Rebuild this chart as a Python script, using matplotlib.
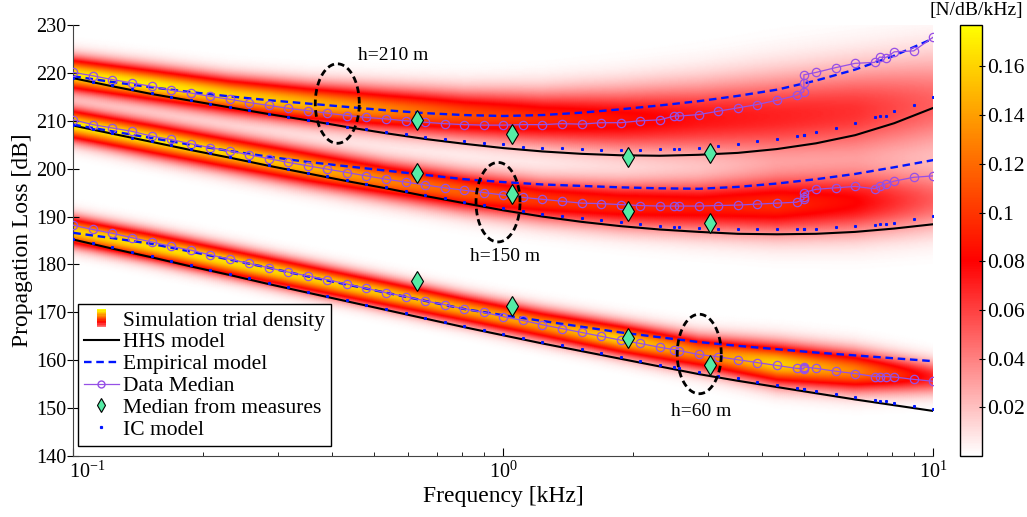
import numpy as np
import matplotlib
matplotlib.use('Agg')
from matplotlib import pyplot as plt
from matplotlib.colors import LinearSegmentedColormap
from matplotlib.legend_handler import HandlerBase
from matplotlib.patches import Rectangle
from matplotlib.lines import Line2D
from matplotlib.transforms import ScaledTranslation

plt.rcParams['font.family'] = ['Liberation Serif', 'DejaVu Serif']
plt.rcParams['mathtext.fontset'] = 'stix'

# frequencies of the data medians / IC model (kHz)
freq = [0.1, 0.111, 0.1233, 0.1369, 0.152, 0.1688, 0.1874, 0.2081, 0.231, 0.2565,
        0.2848, 0.3162, 0.3511, 0.3899, 0.4329, 0.4806, 0.5337, 0.5926, 0.6579, 0.7305,
        0.8111, 0.9006, 1.0, 1.1103, 1.2328, 1.3689, 1.5199, 1.6877, 1.8738, 2.0806,
        2.3101, 2.5, 2.565, 2.848, 3.1623, 3.5112, 3.8986, 4.3288, 4.8064, 5.0,
        5.0, 5.0, 5.3367, 5.9255, 6.5793, 7.3053, 7.5, 7.75, 8.1113, 9.0063, 10.0]

median_210 = [220.1, 219.4, 218.6, 217.9, 217.2, 216.4, 215.8, 215.1, 214.5, 213.8,
              213.2, 212.6, 212.1, 211.6, 211.1, 210.7, 210.4, 210.0, 209.7, 209.4,
              209.2, 209.1, 209.1, 209.2, 209.2, 209.4, 209.3, 209.6, 209.6, 210.0,
              210.2, 211.0, 211.0, 211.3, 212.0, 212.7, 213.4, 214.3, 215.3, 216.1,
              217.8, 219.6, 220.1, 221.1, 222.0, 222.2, 223.3, 223.2, 224.4, 224.6, 227.5]
median_150 = [210.2, 209.2, 208.5, 207.8, 206.8, 206.1, 205.2, 204.4, 203.7, 202.9,
              202.1, 201.3, 200.6, 199.9, 199.2, 198.5, 197.8, 197.2, 196.6, 196.0,
              195.5, 195.0, 194.5, 194.0, 193.6, 193.2, 192.8, 192.7, 192.5, 192.3,
              192.2, 192.2, 192.2, 192.2, 192.3, 192.4, 192.6, 192.8, 193.0, 193.6,
              194.1, 195.0, 195.7, 196.0, 196.3, 195.8, 196.3, 196.8, 197.4, 198.2, 198.5]
median_60 = [188.2, 187.3, 186.5, 185.6, 184.7, 183.8, 183.0, 182.0, 181.1, 180.2,
             179.3, 178.4, 177.6, 176.8, 175.9, 175.0, 174.1, 173.3, 172.4, 171.6,
             170.7, 170.0, 169.1, 168.3, 167.4, 166.6, 165.8, 165.0, 164.2, 163.5,
             162.7, 162.2, 162.0, 161.2, 160.7, 160.1, 159.5, 158.9, 158.3, 158.2,
             158.4, 158.6, 158.3, 157.7, 157.2, 156.6, 156.6, 156.6, 156.5, 156.0, 155.6]

ic_210 = [219.0, 218.2, 217.4, 216.6, 215.7, 215.0, 214.3, 213.6, 212.9, 212.2,
          211.5, 210.7, 210.1, 209.5, 208.8, 208.2, 207.7, 207.2, 206.7, 206.2,
          205.7, 205.3, 205.1, 204.6, 204.4, 204.3, 204.1, 203.9, 203.9, 203.9,
          204.1, 204.2, 204.2, 204.4, 204.7, 205.2, 205.7, 206.2, 206.9, 207.1,
          207.1, 207.1, 207.6, 208.5, 209.6, 210.7, 210.9, 211.1, 212.0, 213.4, 214.9]
ic_150 = [209.1, 208.3, 207.4, 206.5, 205.7, 204.9, 204.1, 203.2, 202.4, 201.6,
          200.8, 200.0, 199.2, 198.4, 197.6, 196.8, 196.1, 195.4, 194.6, 193.9,
          193.1, 192.4, 191.7, 191.1, 190.6, 190.1, 189.7, 189.3, 188.9, 188.4,
          188.1, 187.9, 187.9, 187.7, 187.5, 187.4, 187.4, 187.4, 187.4, 187.4,
          187.4, 187.4, 187.5, 187.8, 188.0, 188.3, 188.4, 188.5, 188.7, 189.5, 190.1]
ic_60 = [185.4, 184.5, 183.6, 182.6, 181.7, 180.8, 179.9, 178.9, 178.0, 177.1,
         176.2, 175.2, 174.3, 173.4, 172.5, 171.6, 170.7, 169.8, 168.9, 168.0,
         167.1, 166.3, 165.5, 164.7, 163.9, 163.1, 162.3, 161.5, 160.7, 159.9,
         159.1, 158.6, 158.3, 157.5, 156.8, 156.2, 155.5, 154.8, 154.2, 153.9,
         153.9, 153.9, 153.6, 152.9, 152.3, 151.7, 151.5, 151.4, 151.0, 150.4, 149.8]

# model curves
model_freq = [0.1, 0.1233, 0.152, 0.1874, 0.231, 0.2848, 0.3511, 0.4329, 0.5337, 0.6579,
              0.8111, 1.0, 1.2328, 1.5199, 1.8738, 2.3101, 2.848, 3.5112, 4.3288, 5.3367,
              6.5793, 8.1113, 10.0]
hhs_210 = [218.9, 217.2, 215.6, 214.2, 212.8, 211.4, 210.1, 208.7, 207.4, 206.2,
           205.2, 204.3, 203.6, 203.1, 202.8, 202.7, 202.9, 203.3, 204.1, 205.3,
           207.0, 209.5, 212.7]
hhs_150 = [209.0, 207.3, 205.6, 203.9, 202.3, 200.6, 199.0, 197.4, 195.9, 194.3,
           192.8, 191.3, 190.0, 188.9, 188.0, 187.3, 186.8, 186.4, 186.3, 186.4,
           186.8, 187.5, 188.4]
hhs_60 = [185.2, 183.3, 181.5, 179.6, 177.8, 175.9, 174.1, 172.3, 170.5, 168.7,
          166.9, 165.2, 163.5, 161.9, 160.3, 158.7, 157.1, 155.7, 154.4, 153.1,
          151.8, 150.6, 149.4]
emp_210 = [219.3, 218.1, 217.0, 216.0, 215.1, 214.3, 213.6, 212.9, 212.2, 211.6,
           211.2, 211.0, 211.2, 211.7, 212.4, 213.2, 214.1, 215.2, 216.5, 218.4,
           220.7, 223.6, 227.2]
emp_150 = [209.2, 207.8, 206.4, 205.0, 203.7, 202.5, 201.4, 200.5, 199.6, 198.7,
           197.8, 197.2, 196.7, 196.4, 196.1, 195.9, 195.8, 196.2, 196.9, 197.8,
           198.9, 200.3, 201.8]
emp_60 = [186.6, 185.5, 184.3, 182.7, 181.0, 179.3, 177.5, 175.8, 174.1, 172.4,
          170.7, 169.4, 168.2, 167.0, 165.8, 164.8, 163.8, 163.0, 162.3, 161.6,
          161.0, 160.4, 159.8]

# medians from measures
meas_freq = [0.63, 1.05, 1.95, 3.03]
meas_210 = [210.1, 207.3, 202.5, 203.3]
meas_150 = [199.0, 194.8, 191.1, 188.6]
meas_60 = [176.6, 171.4, 164.7, 158.9]

# simulation trial density: ridge centre, spread and peak per band
dens_freq = [0.1, 0.152, 0.231, 0.3511, 0.5337, 0.8111, 1.2328, 1.8738, 2.848, 4.3288, 6.5793, 10.0]
dens_c_210 = [219.8, 217.6, 215.4, 213.7, 212.4, 211.3, 210.6, 210.3, 210.5, 211.0, 212.0, 213.5]
dens_w_210 = [2.3, 2.4, 2.5, 2.7, 3.0, 3.3, 3.8, 4.5, 5.2, 6.0, 6.5, 7.0]
dens_p_210 = [0.17, 0.17, 0.16, 0.15, 0.13, 0.11, 0.095, 0.085, 0.075, 0.07, 0.065, 0.05]
dens_c_150 = [209.3, 206.3, 203.3, 200.4, 197.7, 195.3, 193.5, 192.5, 192.2, 192.5, 193.0, 193.5]
dens_w_150 = [2.2, 2.3, 2.4, 2.5, 2.6, 2.8, 3.0, 3.3, 3.7, 4.2, 4.5, 4.5]
dens_p_150 = [0.17, 0.17, 0.16, 0.15, 0.13, 0.115, 0.10, 0.095, 0.09, 0.095, 0.08, 0.05]
dens_c_60 = [187.0, 183.9, 180.6, 177.3, 174.0, 170.7, 167.5, 164.5, 161.6, 159.3, 157.8, 156.5]
dens_w_60 = [2.0, 2.0, 2.0, 2.0, 2.0, 2.0, 2.1, 2.2, 2.4, 2.8, 2.8, 2.3]
dens_p_60 = [0.16, 0.165, 0.165, 0.16, 0.155, 0.145, 0.14, 0.16, 0.13, 0.16, 0.13, 0.07]

# annotations
ell_freq = [0.411, 0.972, 2.855]
ell_db = [213.6, 193.0, 161.3]
lab_freq = [0.553, 1.012, 2.88]
lab_db = [223.6, 181.6, 149.2]
lab_text = ['h=210 m', 'h=150 m', 'h=60 m']

cb_ticks = [0.02, 0.04, 0.06, 0.08, 0.1, 0.12, 0.14, 0.16]
cb_labels = ['0.02', '0.04', '0.06', '0.08', '0.1', '0.12', '0.14', '0.16']

vmax = 0.177
cmap = LinearSegmentedColormap.from_list(
    'dens', [(0, 'white'), (0.08 / vmax, 'red'), (1, 'yellow')])


class GradientHandler(HandlerBase):

    def create_artists(self, legend, orig, xd, yd, width, height, fontsize, trans):
        n = 14
        bw = width * 0.25
        x0 = -xd + (width - bw) / 2
        hh = height * 1.2
        y0 = -yd - 0.1 * height
        arts = []
        for i in range(n):
            arts.append(Rectangle((x0, y0 + i * hh / n), bw, hh / n + 0.3,
                                  facecolor=cmap(0.25 + 0.75 * i / (n - 1)),
                                  edgecolor='none', transform=trans))
        return arts


fig = plt.figure(figsize=(10.27, 5.17), dpi=100)
ax = fig.add_axes([0.0714, 0.118, 0.8374, 0.8336])
cax = fig.add_axes([0.9348, 0.118, 0.0214, 0.8336])

# density image
fg = np.logspace(-1, 1, 400)
dbg = np.linspace(140, 230, 451)
lf = np.log10(dens_freq)
dens = np.zeros((dbg.size, fg.size))
for c, w, p in [(dens_c_210, dens_w_210, dens_p_210),
                (dens_c_150, dens_w_150, dens_p_150),
                (dens_c_60, dens_w_60, dens_p_60)]:
    cc = np.interp(np.log10(fg), lf, c)
    ww = np.interp(np.log10(fg), lf, w)
    pp = np.interp(np.log10(fg), lf, p)
    dens += pp * np.exp(-0.5 * ((dbg[:, None] - cc) / ww) ** 2)
mesh = ax.pcolormesh(fg, dbg, dens, cmap=cmap, vmin=0, vmax=vmax,
                     shading='gouraud', zorder=0)

purple = '#9650E6'
green = '#55EBA5'
blue = '#0015FF'
for hhs, emp, med, ic, meas in [(hhs_210, emp_210, median_210, ic_210, meas_210),
                                (hhs_150, emp_150, median_150, ic_150, meas_150),
                                (hhs_60, emp_60, median_60, ic_60, meas_60)]:
    ax.plot(model_freq, hhs, color='k', lw=1.5, zorder=2)
    ax.plot(model_freq, emp, color=blue, lw=1.7, dashes=(3.2, 2.0), zorder=3)
    ax.plot(freq, med, color=purple, lw=0.9, marker='o', ms=6, mfc='none',
            mec=purple, mew=0.9, zorder=4)
    ax.plot(freq, ic, ls='none', marker='s', ms=1.2, color=blue, zorder=4)
    ax.plot(meas_freq, meas, ls='none', marker='d', ms=10, mfc=green,
            mec='k', mew=0.8, zorder=5)

t = np.linspace(0, 2 * np.pi, 200)
for fc, dbc in zip(ell_freq, ell_db):
    ax.plot(10 ** (np.log10(fc) + 0.0512 * np.cos(t)), dbc + 8.3 * np.sin(t),
            color='k', lw=2.0, ls=(0, (2.4, 1.4)), zorder=6)
for fx, dy, s in zip(lab_freq, lab_db, lab_text):
    ax.text(fx, dy, s, ha='center', va='center', fontsize=14, zorder=6)

ax.set_xscale('log')
ax.set_xlim(0.1, 10)
ax.set_ylim(140, 230)
ax.set_xticks([0.1, 1, 10])
ax.set_yticks(range(140, 231, 10))
ax.tick_params(axis='y', direction='inout', length=8, labelsize=14.5, pad=1)
ax.tick_params(axis='x', which='major', direction='in', length=6, labelsize=14.5, pad=4)
ax.tick_params(axis='x', which='minor', direction='in', length=3)
for s in ['top', 'right']:
    ax.spines[s].set_visible(False)
for s in ['left', 'bottom']:
    ax.spines[s].set_color('#444444')
ax.set_xlabel('Frequency [kHz]', fontsize=17)
ax.set_ylabel('Propagation Loss [dB]', fontsize=17)
ax.xaxis.set_label_coords(0.5, -0.07)
ax.yaxis.set_label_coords(-0.047, 0.5)

# MATLAB-like: first decade label sits right of its tick
first = ax.xaxis.get_major_ticks()[0].label1
first.set_transform(first.get_transform() + ScaledTranslation(10 / 72, 0, fig.dpi_scale_trans))

handles = [Rectangle((0, 0), 1, 1),
           Line2D([], [], color='k', lw=1.5),
           Line2D([], [], color=blue, lw=1.7, dashes=(3.2, 2.0)),
           Line2D([], [], color=purple, lw=0.9, marker='o', ms=5, mfc='none', mec=purple),
           Line2D([], [], ls='none', marker='d', ms=7, mfc=green, mec='k', mew=0.8),
           Line2D([], [], ls='none', marker='s', ms=1.3, color=blue)]
labels = ['Simulation trial density', 'HHS model', 'Empirical model', 'Data Median',
          'Median from measures', 'IC model']
leg = ax.legend(handles, labels, loc='lower left', bbox_to_anchor=(0.005, 0.023),
                borderaxespad=0, fontsize=15.5, fancybox=False, edgecolor='k',
                framealpha=1, handlelength=1.6, handletextpad=0.2, labelspacing=0.08,
                borderpad=0.3, handler_map={Rectangle: GradientHandler()})
leg.get_frame().set_linewidth(1.0)
leg.set_zorder(10)

cb = fig.colorbar(mesh, cax=cax)
cb.set_ticks(cb_ticks)
cb.set_ticklabels(cb_labels)
cb.ax.tick_params(direction='inout', length=5, labelsize=15.5, pad=1)
cb.outline.set_linewidth(1.0)
fig.text(0.9503, 0.979, '[N/dB/kHz]', ha='center', va='center', fontsize=14)

fig.savefig('out.png', dpi=100)
